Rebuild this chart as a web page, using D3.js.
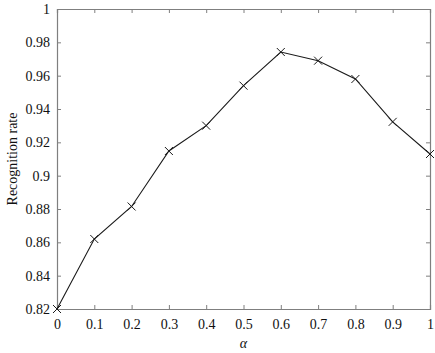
<!DOCTYPE html>
<html>
<head>
<meta charset="utf-8">
<script src="https://cdn.jsdelivr.net/npm/d3@7"></script>
<style>
  body { margin: 0; background: #fff; }
  svg text { font-family: "Liberation Serif", "DejaVu Serif", serif; font-size: 14px; fill: #111; }
</style>
</head>
<body>
<div id="chart"></div>
<script>
var w = 435;
var h = 353;
var margin = {top: 9, right: 5, bottom: 44, left: 57};

var alphas = [0, 0.1, 0.2, 0.3, 0.4, 0.5, 0.6, 0.7, 0.8, 0.9, 1];
var rates = [0.820, 0.862, 0.8815, 0.9148, 0.930, 0.954, 0.9742, 0.969, 0.958, 0.9323, 0.913];
var xTicks = [0, 0.1, 0.2, 0.3, 0.4, 0.5, 0.6, 0.7, 0.8, 0.9, 1];
var yTicks = [0.82, 0.84, 0.86, 0.88, 0.9, 0.92, 0.94, 0.96, 0.98, 1];

var axisColor = "#7f7f7f";

var xScale = d3.scaleLinear()
               .domain([0, 1])
               .range([margin.left, w - margin.right]);

var yScale = d3.scaleLinear()
               .domain([0.82, 1])
               .range([h - margin.bottom, margin.top]);

var svg = d3.select("#chart")
            .append("svg")
            .attr("width", w)
            .attr("height", h);

var fmt = function(d) { return String(+d.toFixed(2)); };

// bottom and left axes, ticks pointing in
var xAxis = d3.axisBottom(xScale).tickValues(xTicks).tickSize(-4).tickPadding(10).tickFormat(fmt);
var yAxis = d3.axisLeft(yScale).tickValues(yTicks).tickSize(-4).tickPadding(7).tickFormat(fmt);

var gx = svg.append("g")
   .attr("transform", "translate(0," + (h - margin.bottom) + ")")
   .call(xAxis);

var gy = svg.append("g")
   .attr("transform", "translate(" + margin.left + ",0)")
   .call(yAxis);

// top and right: ticks only
var gt = svg.append("g")
   .attr("transform", "translate(0," + margin.top + ")")
   .call(d3.axisTop(xScale).tickValues(xTicks).tickSize(-4).tickFormat(""));

var gr = svg.append("g")
   .attr("transform", "translate(" + (w - margin.right) + ",0)")
   .call(d3.axisRight(yScale).tickValues(yTicks).tickSize(-4).tickFormat(""));

[gx, gy, gt, gr].forEach(function(g) {
  g.select(".domain").attr("stroke", axisColor).attr("stroke-width", 1.2);
  g.selectAll(".tick line").attr("stroke", axisColor);
  g.selectAll("text").attr("font-family", null).attr("font-size", null);
});

// data line
var line = d3.line()
             .x(function(d, i) { return xScale(alphas[i]); })
             .y(function(d) { return yScale(d); });

svg.append("path")
   .datum(rates)
   .attr("fill", "none")
   .attr("stroke", "#1a1a1a")
   .attr("stroke-width", 1.1)
   .attr("d", line);

// x markers
var s = 4;
svg.append("g")
   .selectAll("path")
   .data(rates)
   .enter()
   .append("path")
   .attr("fill", "none")
   .attr("stroke", "#1a1a1a")
   .attr("stroke-width", 1)
   .attr("d", function(d, i) {
     var cx = xScale(alphas[i]), cy = yScale(d);
     return "M" + (cx - s) + "," + (cy - s) + "L" + (cx + s) + "," + (cy + s) +
            "M" + (cx - s) + "," + (cy + s) + "L" + (cx + s) + "," + (cy - s);
   });

// axis titles
svg.append("text")
   .attr("x", (margin.left + w - margin.right) / 2)
   .attr("y", 348)
   .attr("text-anchor", "middle")
   .style("font-style", "italic")
   .text("α");

svg.append("text")
   .attr("transform", "translate(17," + ((margin.top + h - margin.bottom) / 2) + ") rotate(-90)")
   .attr("text-anchor", "middle")
   .text("Recognition rate");
</script>
</body>
</html>
